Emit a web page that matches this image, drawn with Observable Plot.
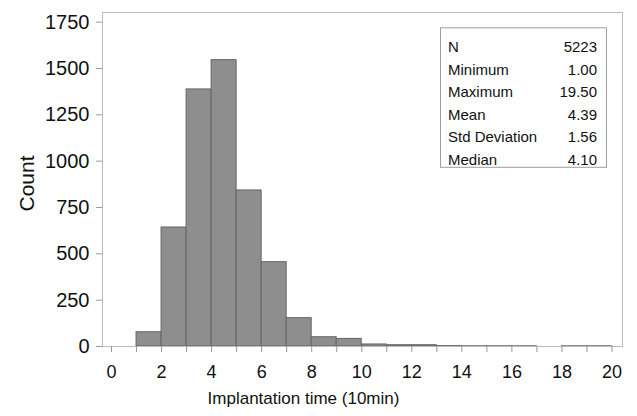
<!DOCTYPE html>
<html>
<head>
<meta charset="utf-8">
<script src="https://cdn.jsdelivr.net/npm/d3@7"></script>
<script src="https://cdn.jsdelivr.net/npm/@observablehq/plot@0.6"></script>
<style>
  html, body { margin: 0; padding: 0; background: #fff; }
  #chart svg { display: block; font-family: "Liberation Sans", Arial, sans-serif; }
</style>
</head>
<body>
<div id="chart"></div>
<script>
// Histogram bins (lower edge, upper edge) and counts
const binStart = [0, 1, 2, 3, 4, 5, 6, 7, 8, 9, 10, 11, 12, 13, 14, 15, 16, 17, 18, 19];
const binEnd   = [1, 2, 3, 4, 5, 6, 7, 8, 9, 10, 11, 12, 13, 14, 15, 16, 17, 18, 19, 20];
const counts   = [0, 77, 642, 1387, 1545, 842, 455, 153, 50, 41, 11, 7, 7, 2, 1, 1, 1, 0, 1, 1];

const yTicks = [0, 250, 500, 750, 1000, 1250, 1500, 1750];
const xTicks = [0, 1, 2, 3, 4, 5, 6, 7, 8, 9, 10, 11, 12, 13, 14, 15, 16, 17, 18, 19, 20];

const statLabels = ["N", "Minimum", "Maximum", "Mean", "Std Deviation", "Median"];
const statValues = ["5223", "1.00", "19.50", "4.39", "1.56", "4.10"];

const xTitle = "Implantation time (10min)";
const yTitle = "Count";

const bins = binStart.map((s, i) => ({x1: s, x2: binEnd[i], count: counts[i]}))
  .filter(d => d.count > 0);

function statsBox(index, scales, values, dim) {
  const g = d3.create("svg:g");
  const right = dim.width - dim.marginRight - 16;
  const top = dim.marginTop + 15.3;
  const w = 166, h = 139.5;
  const left = right - w;
  g.append("rect")
    .attr("x", left + 0.5).attr("y", top + 0.5)
    .attr("width", w).attr("height", h)
    .attr("fill", "white").attr("stroke", "#9e9e9e");
  const rowStep = 22.6, firstRow = top + 19.4;
  statLabels.forEach((lab, i) => {
    const y = firstRow + i * rowStep;
    g.append("text").attr("x", left + 8).attr("y", y).attr("dy", "0.35em")
      .attr("text-anchor", "start").attr("font-size", 15).attr("fill", "#111").text(lab);
    g.append("text").attr("x", right - 9).attr("y", y).attr("dy", "0.35em")
      .attr("text-anchor", "end").attr("font-size", 15).attr("fill", "#111").text(statValues[i]);
  });
  return g.node();
}

const chart = Plot.plot({
  width: 637,
  height: 416,
  marginLeft: 102,
  marginRight: 15,
  marginTop: 12,
  marginBottom: 70,
  style: {fontFamily: "'Liberation Sans', Arial, sans-serif", background: "white"},
  x: {domain: [-0.36, 20.42]},
  y: {domain: [0, 1802]},
  marks: [
    Plot.rectY(bins, {x1: "x1", x2: "x2", y: "count", fill: "#8e8e8e", stroke: "#666666", strokeWidth: 1, inset: 0}),
    Plot.frame({stroke: "#bbbbbb"}),
    Plot.axisY({ticks: yTicks, tickSize: 6, tickPadding: 7, stroke: "#999999", fill: "#111", fontSize: 20,
      tickFormat: d => String(d), label: null}),
    Plot.axisX({ticks: xTicks, tickSize: 6, tickPadding: 13, stroke: "#999999", fill: "#111", fontSize: 18,
      tickFormat: d => (d % 2 === 0 ? String(d) : ""), label: null}),
    Plot.text([xTitle], {text: d => d, frameAnchor: "bottom", dx: -59, dy: 52, fontSize: 17, fill: "#111", textAnchor: "middle", lineAnchor: "middle"}),
    Plot.text([yTitle], {text: d => d, frameAnchor: "left", dx: -75, dy: 4, rotate: -90, fontSize: 21, fill: "#111", textAnchor: "middle", lineAnchor: "middle"}),
    statsBox
  ]
});
document.getElementById("chart").appendChild(chart);
</script>
</body>
</html>
